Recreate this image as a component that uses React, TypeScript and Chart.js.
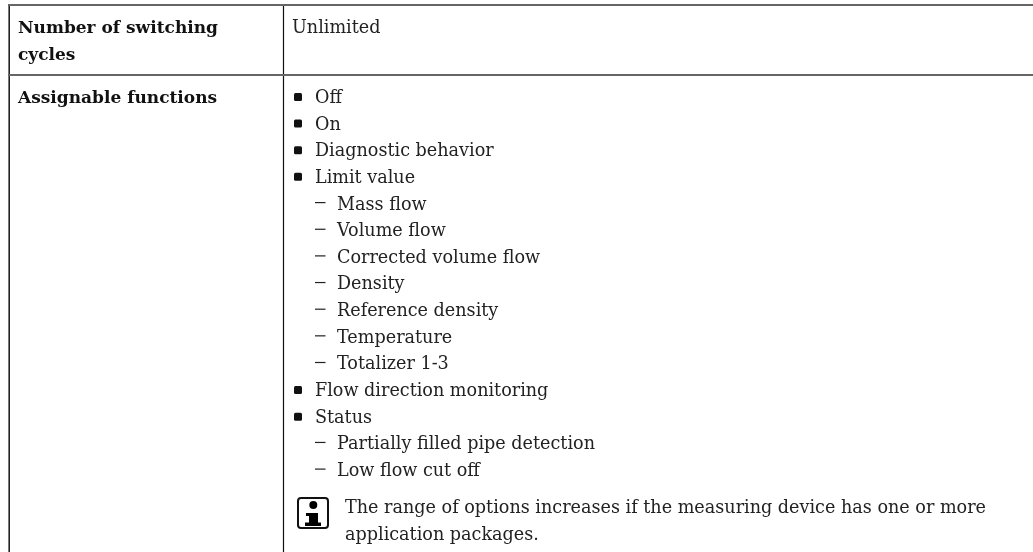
import React, { useEffect, useRef } from "react";
import { Chart, registerables } from "chart.js";

Chart.register(...registerables);

const WIDTH = 1033;
const HEIGHT = 552;

const rowHeaders = [["Number of switching", "cycles"], ["Assignable functions"]];
const firstRowValue = "Unlimited";
const listItems = [
  { level: 0, text: "Off" },
  { level: 0, text: "On" },
  { level: 0, text: "Diagnostic behavior" },
  { level: 0, text: "Limit value" },
  { level: 1, text: "Mass flow" },
  { level: 1, text: "Volume flow" },
  { level: 1, text: "Corrected volume flow" },
  { level: 1, text: "Density" },
  { level: 1, text: "Reference density" },
  { level: 1, text: "Temperature" },
  { level: 1, text: "Totalizer 1-3" },
  { level: 0, text: "Flow direction monitoring" },
  { level: 0, text: "Status" },
  { level: 1, text: "Partially filled pipe detection" },
  { level: 1, text: "Low flow cut off" },
];
const noteLines = [
  "The range of options increases if the measuring device has one or more",
  "application packages.",
];

const horizontalRules = [
  [{ x: 8, y: 5 }, { x: 1033, y: 5 }],
  [{ x: 8, y: 75 }, { x: 1033, y: 75 }],
];
const verticalRules = [
  [{ x: 9.2, y: 5 }, { x: 9.2, y: 552 }],
  [{ x: 283.5, y: 5 }, { x: 283.5, y: 552 }],
];

const FONT = '"DejaVu Serif"';
const LINE = 26.65;
const FIRST_BASE = 102.9;

const tablePlugin = {
  id: "tableText",
  afterDraw(chart: any) {
    const { ctx, scales } = chart;
    const X = (v: number) => scales.x.getPixelForValue(v);
    const Y = (v: number) => scales.y.getPixelForValue(v);
    ctx.save();
    ctx.textAlign = "left";
    ctx.textBaseline = "alphabetic";

    ctx.fillStyle = "#111";
    ctx.font = `bold 17px ${FONT}`;
    ctx.fillText(rowHeaders[0][0], X(18), Y(33));
    ctx.fillText(rowHeaders[0][1], X(18), Y(59.5));
    ctx.fillText(rowHeaders[1][0], X(18), Y(102.5));

    ctx.fillStyle = "#222";
    ctx.font = `17.6px ${FONT}`;
    ctx.fillText(firstRowValue, X(292), Y(33));

    listItems.forEach((item, i) => {
      const base = FIRST_BASE + i * LINE;
      if (item.level === 0) {
        ctx.fillStyle = "#111";
        ctx.beginPath();
        ctx.roundRect(X(294), Y(base - 10), 8, 8, 1.5);
        ctx.fill();
        ctx.fillStyle = "#222";
        ctx.fillText(item.text, X(315), Y(base));
      } else {
        ctx.fillStyle = "#222";
        ctx.fillRect(X(315), Y(base - 7.5), 10.5, 1.2);
        ctx.fillText(item.text, X(337), Y(base));
      }
    });

    noteLines.forEach((t, i) => ctx.fillText(t, X(345), Y(513.2 + i * 27)));

    ctx.strokeStyle = "#111";
    ctx.lineWidth = 2;
    ctx.beginPath();
    ctx.roundRect(X(298), Y(498), 30, 30, 3);
    ctx.stroke();
    ctx.fillStyle = "#000";
    ctx.beginPath();
    ctx.arc(X(313.3), Y(505), 4, 0, Math.PI * 2);
    ctx.fill();
    ctx.fillRect(X(306), Y(513), 12, 3);
    ctx.fillRect(X(309), Y(513), 9, 10);
    ctx.fillRect(X(305), Y(522.5), 16, 3.5);
    ctx.restore();
  },
};

export default function App() {
  const ref = useRef<HTMLCanvasElement>(null);
  useEffect(() => {
    document.body.style.margin = "0";
    document.body.style.background = "#fff";
    const rule = (data: any[], color: string, width: number) => ({
      data,
      showLine: true,
      borderColor: color,
      borderWidth: width,
      pointRadius: 0,
    });
    const chart = new Chart(ref.current!, {
      type: "scatter",
      data: {
        datasets: [
          ...horizontalRules.map((d) => rule(d, "#666", 2)),
          rule(verticalRules[0], "#222", 1.6),
          rule(verticalRules[1], "#111", 1.2),
        ],
      },
      options: {
        animation: false,
        responsive: false,
        layout: { padding: 0 },
        clip: false,
        plugins: { legend: { display: false }, tooltip: { enabled: false } },
        scales: {
          x: { type: "linear", min: 0, max: WIDTH, display: false },
          y: { type: "linear", min: 0, max: HEIGHT, reverse: true, display: false },
        },
      } as any,
      plugins: [tablePlugin],
    });
    return () => chart.destroy();
  }, []);
  return <canvas ref={ref} width={WIDTH} height={HEIGHT} style={{ display: "block" }} />;
}
